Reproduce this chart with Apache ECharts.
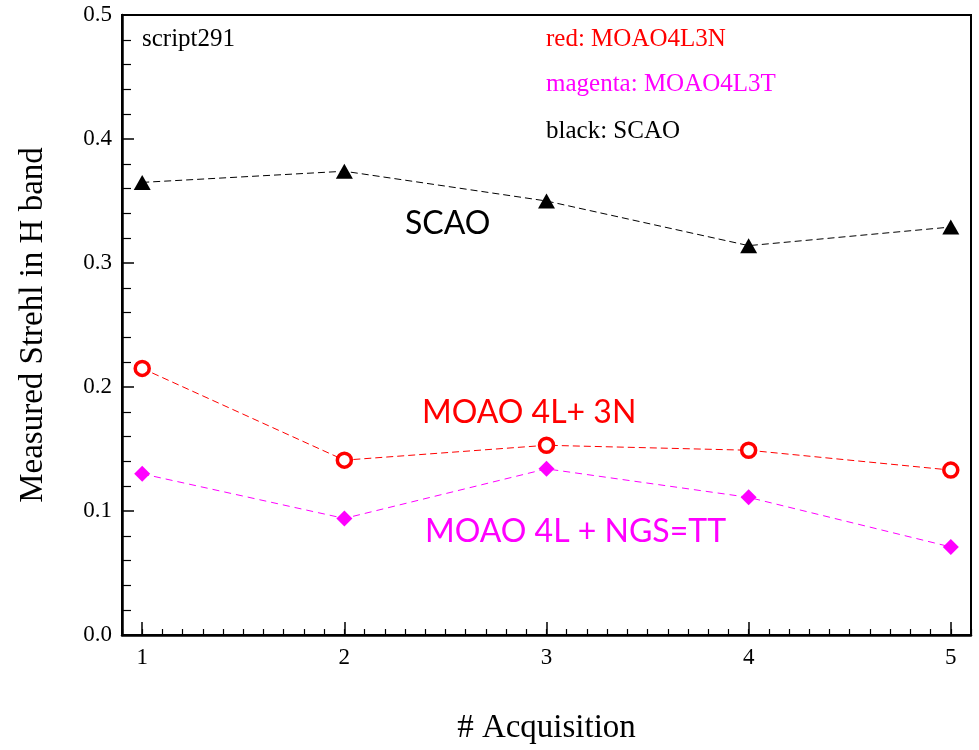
<!DOCTYPE html>
<html>
<head>
<meta charset="utf-8">
<script src="https://cdn.jsdelivr.net/npm/echarts@6/dist/echarts.min.js"></script>
<style>
  html, body { margin: 0; padding: 0; background: #fff; }
  #chart { width: 979px; height: 750px; }
</style>
</head>
<body>
<div id="chart"></div>
<script>
// Acquisition index on the x axis
const acquisitions = [1, 2, 3, 4, 5];
// Measured Strehl ratio in H band for each AO mode
const scaoStrehl = [0.365, 0.374, 0.350, 0.314, 0.329];
const moao4l3nStrehl = [0.215, 0.141, 0.153, 0.149, 0.133];
const moao4l3tStrehl = [0.130, 0.094, 0.134, 0.111, 0.071];
// Axis tick labels
const yTickLabels = ['0.0', '0.1', '0.2', '0.3', '0.4', '0.5'];
const xTickLabels = ['1', '2', '3', '4', '5'];

const serif = '"Liberation Serif", "Times New Roman", serif';
const sans = 'Lato, "Open Sans", sans-serif';

const pairs = (ys) => acquisitions.map((x, i) => [x, ys[i]]);

const chart = echarts.init(document.getElementById('chart'));
chart.setOption({
  animation: false,
  backgroundColor: '#fff',
  grid: {
    left: 122, right: 8, top: 15, bottom: 113,
    show: true, borderColor: '#000', borderWidth: 2, backgroundColor: 'transparent'
  },
  xAxis: [
    {
      type: 'value', min: 0.9, max: 5.1, interval: 0.1,
      name: '# Acquisition', nameLocation: 'middle', nameGap: 77,
      nameTextStyle: { fontFamily: serif, fontSize: 33, color: '#000' },
      axisLine: { show: true, lineStyle: { color: '#000', width: 2.5 } },
      axisTick: { show: true, inside: true, length: 13, customValues: acquisitions, lineStyle: { color: '#000', width: 1.5 } },
      axisLabel: {
        customValues: acquisitions, margin: 11,
        fontFamily: serif, fontSize: 23, color: '#000',
        formatter: (v) => xTickLabels[acquisitions.indexOf(Math.round(v))] || ''
      },
      splitLine: { show: false }
    },
    {
      // minor ticks every 0.1 acquisition
      type: 'value', min: 0.9, max: 5.1, interval: 0.1, position: 'bottom',
      axisLine: { show: false },
      axisTick: { show: true, inside: true, length: 6, lineStyle: { color: '#000', width: 1.2 } },
      axisLabel: { show: false },
      splitLine: { show: false }
    }
  ],
  yAxis: {
    type: 'value', min: 0, max: 0.5, interval: 0.1,
    name: 'Measured Strehl in H band', nameLocation: 'middle', nameGap: 72,
    nameTextStyle: { fontFamily: serif, fontSize: 33, color: '#000' },
    axisLine: { show: true, lineStyle: { color: '#000', width: 2.5 } },
    axisTick: { show: true, inside: true, length: 12, lineStyle: { color: '#000', width: 1.5 } },
    minorTick: { show: true, splitNumber: 5, length: 9, lineStyle: { color: '#000', width: 1.2 } },
    axisLabel: {
      margin: 10, fontFamily: serif, fontSize: 23, color: '#000',
      formatter: (v) => yTickLabels[Math.round(v * 10)]
    },
    splitLine: { show: false }
  },
  series: [
    {
      name: 'SCAO', type: 'line', xAxisIndex: 0, data: pairs(scaoStrehl),
      symbol: 'triangle', symbolSize: [17, 15],
      itemStyle: { color: '#000' },
      lineStyle: { color: '#000', width: 1, type: [7, 4] }
    },
    {
      name: 'MOAO4L3N', type: 'line', xAxisIndex: 0, data: pairs(moao4l3nStrehl),
      symbol: 'circle', symbolSize: 14,
      itemStyle: { color: '#fff', borderColor: '#ff0000', borderWidth: 3.5 },
      lineStyle: { color: '#ff0000', width: 1, type: [7, 4] }
    },
    {
      name: 'MOAO4L3T', type: 'line', xAxisIndex: 0, data: pairs(moao4l3tStrehl),
      symbol: 'diamond', symbolSize: [16, 16],
      itemStyle: { color: '#ff00ff' },
      lineStyle: { color: '#ff00ff', width: 1, type: [7, 5] }
    }
  ],
  graphic: [
    { type: 'text', left: 142, top: 27, style: { text: 'script291', font: '25px ' + serif, fill: '#000' } },
    { type: 'text', left: 546, top: 27, style: { text: 'red: MOAO4L3N', font: '25px ' + serif, fill: '#ff0000' } },
    { type: 'text', left: 546, top: 72, style: { text: 'magenta: MOAO4L3T', font: '25px ' + serif, fill: '#ff00ff' } },
    { type: 'text', left: 546, top: 119, style: { text: 'black: SCAO', font: '25px ' + serif, fill: '#000' } },
    { type: 'text', left: 405, top: 208, style: { text: 'SCAO', font: '32px ' + sans, fill: '#000' } },
    { type: 'text', left: 422, top: 397, style: { text: 'MOAO 4L+ 3N', font: '32px ' + sans, fill: '#ff0000' } },
    { type: 'text', left: 425, top: 516, style: { text: 'MOAO 4L + NGS=TT', font: '32px ' + sans, fill: '#ff00ff' } }
  ]
});
</script>
</body>
</html>
